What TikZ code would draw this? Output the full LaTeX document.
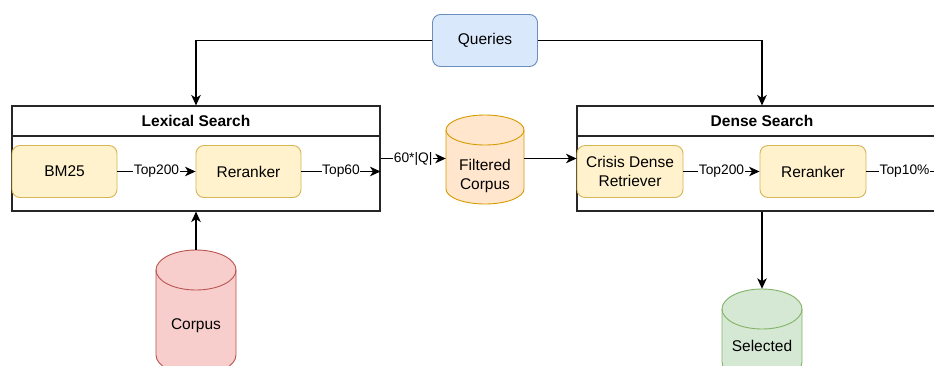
\documentclass[tikz,border=0pt]{standalone}
\usepackage{fontspec}
\setmainfont{Liberation Sans}
\usetikzlibrary{arrows.meta}
\definecolor{qfill}{HTML}{DAE8FC}
\definecolor{qdraw}{HTML}{6C8EBF}
\definecolor{yfill}{HTML}{FFF2CC}
\definecolor{ydraw}{HTML}{D6B656}
\definecolor{ofill}{HTML}{FFE6CC}
\definecolor{odraw}{HTML}{D79B00}
\definecolor{rfill}{HTML}{F8CECC}
\definecolor{rdraw}{HTML}{B85450}
\definecolor{gfill}{HTML}{D5E8D4}
\definecolor{gdraw}{HTML}{82B366}
\tikzset{
  mainfont/.style={font=\fontsize{15.5}{18.5}\selectfont},
  lblfont/.style={font=\fontsize{13.8}{16}\selectfont},
  stepbox/.style={draw=ydraw, fill=yfill, line width=0.9pt, rounded corners=8pt,
    minimum width=105pt, minimum height=52pt, inner sep=0pt, align=center, mainfont},
  qbox/.style={draw=qdraw, fill=qfill, line width=0.9pt, rounded corners=8pt,
    minimum width=105pt, minimum height=52pt, inner sep=0pt, mainfont},
  container/.style={draw=black!85, line width=1.1pt, inner sep=0pt},
  conn/.style={line width=1.2pt, draw=black, -{Stealth[length=10.5pt,width=9.5pt,inset=3pt]}},
  elabel/.style={fill=white, inner sep=0.6pt, lblfont},
  cyltext/.style={align=center, mainfont, inner sep=0pt},
  cylshape/.style={line width=0.9pt},
}
\begin{document}
\begin{tikzpicture}[x=1pt,y=1pt]
\useasboundingbox (0,0) rectangle (934,-365);
\clip (0,0) rectangle (934,-365);
\fill[white] (0,0) rectangle (934,-365);

% Queries
\node[qbox] (q) at (485,-40.5) {Queries};

% Containers
\node[container, minimum width=368pt, minimum height=105pt] (lex) at (196,-158.5) {};
\draw[line width=1.1pt, draw=black!85] (12,-136) -- (380,-136);
\node[font=\fontsize{15.5}{18}\selectfont\bfseries] (lextitle) at (196,-121) {Lexical Search};

\node[container, minimum width=370pt, minimum height=105pt] (den) at (762,-158.5) {};
\draw[line width=1.1pt, draw=black!85] (577,-136) -- (947,-136);
\node[font=\fontsize{15.5}{18}\selectfont\bfseries] (dentitle) at (762,-121) {Dense Search};

% Inner steps
\node[stepbox] (bm) at (64.5,-171.5) {BM25};
\node[stepbox] (rr1) at (248.5,-171.5) {Reranker};
\node[stepbox, minimum width=106pt] (crisis) at (630,-171.5) {Crisis Dense\\[1pt]Retriever};
\node[stepbox, minimum width=106pt] (rr2) at (813,-171.5) {Reranker};

% Filtered corpus cylinder (x 446-524, y 115-204, ry 15)
\filldraw[cylshape, draw=odraw, fill=ofill]
  (446,-130) -- (446,-189) arc (180:360:39 and 15) -- (524,-130) arc (0:180:39 and 15) -- cycle;
\draw[cylshape, draw=odraw] (446,-130) arc (180:360:39 and 15);
\node[minimum width=78pt, minimum height=89pt, inner sep=0pt] (filt) at (485,-159.5) {};
\node[cyltext] (filttext) at (485,-176) {Filtered\\[1pt]Corpus};

% Corpus cylinder (x 156-236, top 250, ry 20)
\filldraw[cylshape, draw=rdraw, fill=rfill]
  (156,-270) -- (156,-355) arc (180:360:40 and 20) -- (236,-270) arc (0:180:40 and 20) -- cycle;
\draw[cylshape, draw=rdraw] (156,-270) arc (180:360:40 and 20);
\node[minimum width=80pt, minimum height=125pt, inner sep=0pt] (corpus) at (196,-312.5) {};
\node[cyltext] (corpustext) at (196,-326) {Corpus};

% Selected cylinder (x 722-802, top 289, ry 20)
\filldraw[cylshape, draw=gdraw, fill=gfill]
  (722,-309) -- (722,-362) arc (180:360:40 and 20) -- (802,-309) arc (0:180:40 and 20) -- cycle;
\draw[cylshape, draw=gdraw] (722,-309) arc (180:360:40 and 20);
\node[minimum width=80pt, minimum height=93pt, inner sep=0pt] (sel) at (762,-335.5) {};
\node[cyltext] (seltext) at (762,-346) {Selected};

% Connectors
\draw[conn] (q.west) -| (lex.north);
\draw[conn] (q.east) -| (den.north);

\draw[conn] (bm.east) -- node[elabel] {Top200} (rr1.west);
\draw[conn] (rr1.east) -- node[elabel] {Top60} (rr1.east -| lex.east);
\draw[conn] (lex.east) -- node[elabel] {60*|Q|} (lex.east -| filt.west);
\draw[conn] (filt.east |- lex.east) -- (crisis.west |- lex.east);
\draw[conn] (crisis.east) -- node[elabel] {Top200} (rr2.west);
\draw[conn] (rr2.east) -- node[elabel, pos=0.47] {Top10\%} (rr2.east -| den.east);

\draw[conn] (corpus.north) -- (lex.south);
\draw[conn] (den.south) -- (sel.north);
\end{tikzpicture}
\end{document}
